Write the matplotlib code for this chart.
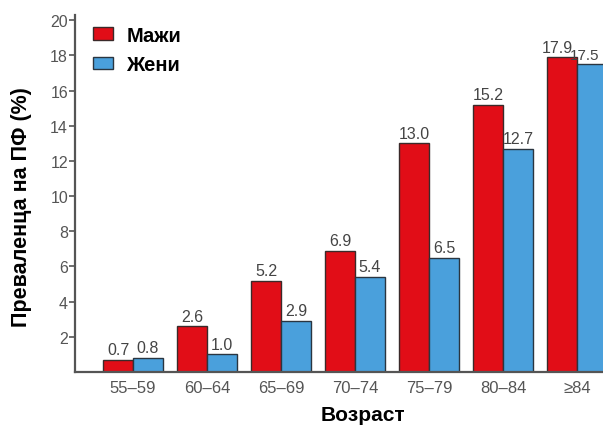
import numpy as np
import matplotlib.pyplot as plt

plt.rcParams['font.family'] = ['Liberation Sans', 'DejaVu Sans']

ages = ['55–59', '60–64', '65–69', '70–74', '75–79', '80–84', '≥84']
men = [0.7, 2.6, 5.2, 6.9, 13.0, 15.2, 17.9]
women = [0.8, 1.0, 2.9, 5.4, 6.5, 12.7, 17.5]

red = '#e10d17'
blue = '#4aa0dc'
grey = '#555555'

fig = plt.figure(figsize=(6.03, 4.27), dpi=100)
ax = fig.add_axes([75 / 603, 54 / 427, 1 - 75 / 603, 357 / 427])

x = np.arange(len(ages))
w = 0.405
b1 = ax.bar(x - w / 2, men, w, color=red, edgecolor='#3a2a2a', linewidth=1.0, label='Мажи')
b2 = ax.bar(x + w / 2, women, w, color=blue, edgecolor='#2a3540', linewidth=1.0, label='Жени')

for bars, vals in ((b1, men), (b2, women)):
    for r, v in zip(bars, vals):
        ax.text(r.get_x() + r.get_width() / 2, v + 0.15, f'{v:.1f}',
                ha='center', va='bottom', fontsize=11.5, color='#444444')

# the last pair sits against the right edge: push its labels apart
lbl_m = ax.texts[len(men) - 1]
lbl_m.set_x(b1[-1].get_x() + w - 0.06)
lbl_m.set_ha('right')
lbl_w = ax.texts[-1]
lbl_w.set_x(b2[-1].get_x() - 0.1)
lbl_w.set_ha('left')
lbl_w.set_fontsize(11)

ax.set_xlim(-0.784, 6.35)
ax.set_ylim(0, 20.3)
ax.set_yticks(range(2, 21, 2))
ax.set_xticks(x)
ax.set_xticklabels(ages)
ax.tick_params(axis='y', direction='out', length=4, width=1.2, color=grey,
               labelsize=11.5, labelcolor=grey, pad=1)
ax.tick_params(axis='x', length=0, labelsize=12, labelcolor=grey, pad=6)

for s in ('top', 'right'):
    ax.spines[s].set_visible(False)
for s in ('left', 'bottom'):
    ax.spines[s].set_color(grey)
    ax.spines[s].set_linewidth(1.6)

ax.set_ylabel('Преваленца на ПФ (%)', fontsize=15.5, fontweight='bold')
ax.yaxis.set_label_coords(-43 / 528, 0.465)
ax.set_xlabel('Возраст', fontsize=15, fontweight='bold')
ax.xaxis.set_label_coords((363 - 75) / 528, -33 / 357)

leg = ax.legend(loc='upper left', bbox_to_anchor=(0.0, 1.02), frameon=False,
                handlelength=1.0, handleheight=0.6, handletextpad=0.65,
                labelspacing=0.5, prop={'weight': 'bold', 'size': 14.5})

fig.savefig('out.png', dpi=100)
